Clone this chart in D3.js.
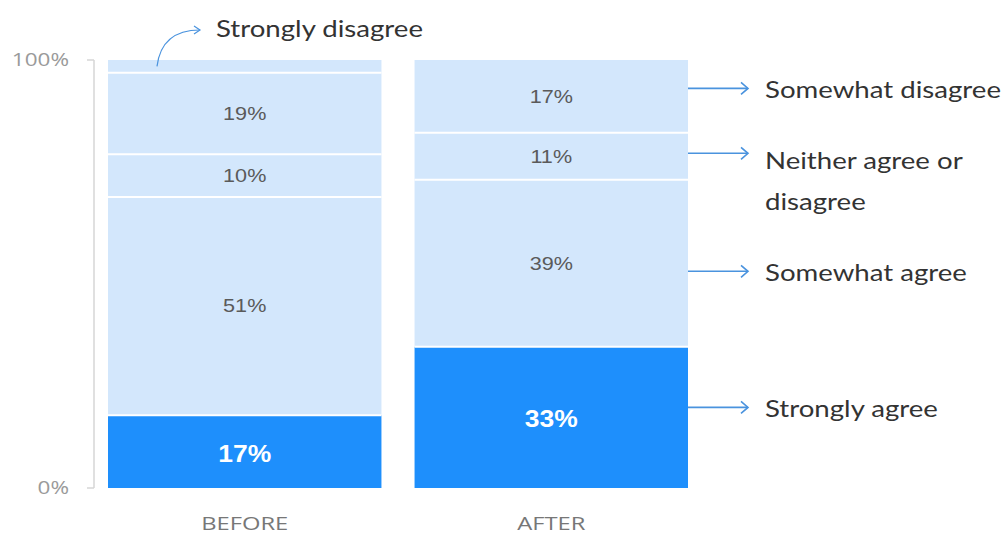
<!DOCTYPE html>
<html><head><meta charset="utf-8">
<script src="https://cdn.jsdelivr.net/npm/d3@7"></script>
<style>body{margin:0;background:#fff}svg{display:block}</style>
</head><body><svg id="c" width="1004" height="535"></svg>
<script>
const groups = ["BEFORE", "AFTER"];
const seriesNames = ["Strongly agree", "Somewhat agree", "Neither agree or disagree", "Somewhat disagree", "Strongly disagree"];
const beforeValues = [17, 51, 10, 19, 3];
const afterValues = [33, 39, 11, 17, 0];
const yTicks = [0, 100];

(function () {
const svg = d3.select("#c");
const plotTop = 60, plotBottom = 488;
const y = d3.scaleLinear().domain([0, 100]).range([plotBottom, plotTop]);
const x = d3.scaleBand().domain(groups).range([108, 688]).paddingInner(0.108).paddingOuter(0);
const darkBlue = "#1e8ffc", lightBlue = "#d3e7fc", arrowCol = "#4a93de";

// text helper with horizontal stretch (the reference text is wide)
function txt(px, py, str, o) {
  const g = svg.append("g").attr("transform", `translate(${px},${py}) scale(${o.sx || 1},1)`);
  return g.append("text").attr("dy", "0.35em").attr("text-anchor", o.anchor || "start")
    .attr("font-family", o.family).attr("font-size", o.size).attr("font-weight", o.weight || "normal")
    .attr("fill", o.fill).text(str);
}

// axis
svg.append("line").attr("x1", 94).attr("x2", 94).attr("y1", y(100)).attr("y2", y(0)).attr("stroke", "#d6d6d6").attr("stroke-width", 1.5);
yTicks.forEach(t => {
  svg.append("line").attr("x1", 87).attr("x2", 94).attr("y1", y(t)).attr("y2", y(t)).attr("stroke", "#d6d6d6").attr("stroke-width", 1.5);
  txt(69, y(t), t + "%", { anchor: "end", family: "Open Sans, sans-serif", size: 18, fill: "#9a9a9a", sx: 1.25 });
});

const data = { BEFORE: beforeValues, AFTER: afterValues };
groups.forEach(g => {
  let cum = 0;
  data[g].forEach((v, i) => {
    const y0 = cum, y1 = cum + v; cum = y1;
    if (v <= 0) return;
    svg.append("rect").attr("x", x(g)).attr("width", x.bandwidth())
      .attr("y", y(y1)).attr("height", y(y0) - y(y1))
      .attr("fill", i === 0 ? darkBlue : lightBlue);
    if (i > 0) svg.append("line").attr("x1", x(g)).attr("x2", x(g) + x.bandwidth())
      .attr("y1", y(y0)).attr("y2", y(y0)).attr("stroke", "#fff").attr("stroke-width", 2);
    if (v >= 5) {
      const cy = (y(y0) + y(y1)) / 2 + (i === 0 ? 2 : 0);
      if (i === 0) txt(x(g) + x.bandwidth() / 2, cy, v + "%", { anchor: "middle", family: "Liberation Sans, Arial, sans-serif", size: 23, weight: "bold", fill: "#fff", sx: 1.15 });
      else txt(x(g) + x.bandwidth() / 2, cy, v + "%", { anchor: "middle", family: "Liberation Sans, Arial, sans-serif", size: 18, fill: "#5a5a5a", sx: 1.2 });
    }
  });
  txt(x(g) + x.bandwidth() / 2, 523, g, { anchor: "middle", family: "Open Sans, sans-serif", size: 19, fill: "#777", sx: 1.25 });
});

// right annotations
const annFont = "Lato, sans-serif";
const annStyle = { family: annFont, size: 24, fill: "#333", sx: 1.15 };
const afterCum = [];
afterValues.reduce((a, v) => { afterCum.push([a, a + v]); return a + v; }, 0);
const annOffsets = [-10, 8, -3, -8];
const arrowX0 = x("AFTER") + x.bandwidth(), arrowX1 = 748;
[0, 1, 2, 3].forEach(i => {
  const [a, b] = afterCum[i];
  const yy = (y(a) + y(b)) / 2 + annOffsets[i];
  svg.append("line").attr("x1", arrowX0).attr("x2", arrowX1).attr("y1", yy).attr("y2", yy)
    .attr("stroke", arrowCol).attr("stroke-width", 1.6);
  svg.append("path").attr("d", `M${arrowX1 - 7},${yy - 6} L${arrowX1},${yy} L${arrowX1 - 7},${yy + 6}`)
    .attr("fill", "none").attr("stroke", arrowCol).attr("stroke-width", 1.6);
  const lines = i === 2 ? ["Neither agree or", "disagree"] : [seriesNames[i]];
  lines.forEach((ln, k) => {
    txt(765, yy + (i === 2 ? 7 : 1) + k * 41, ln, annStyle);
  });
});

// strongly disagree annotation
const sdY = y(100 - beforeValues[4] / 2);
svg.append("path").attr("d", `M157,${sdY} C160,42 175,30 200,30`).attr("fill", "none")
  .attr("stroke", arrowCol).attr("stroke-width", 1.2);
svg.append("path").attr("d", "M194,26 L200,30 L194,34").attr("fill", "none").attr("stroke", arrowCol).attr("stroke-width", 1.2);
txt(216, 29, seriesNames[4], annStyle);
})();
</script></body></html>
